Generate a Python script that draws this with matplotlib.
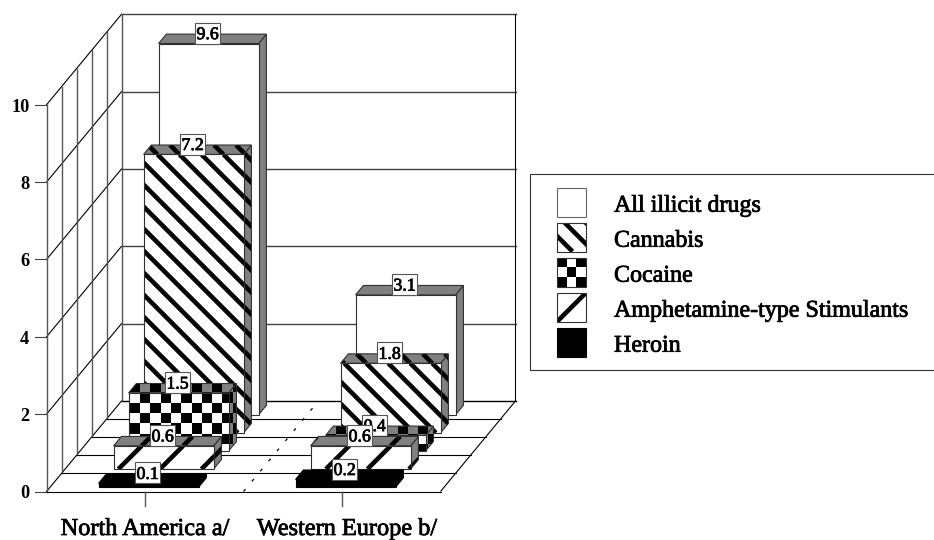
import matplotlib
matplotlib.use("Agg")
import matplotlib.pyplot as plt
import matplotlib.patheffects as pe
from matplotlib.patches import Polygon, Rectangle

plt.rcParams['font.family'] = ['Liberation Serif', 'DejaVu Serif']

regions = ["North America a/", "Western Europe b/"]
drugs = ["Heroin", "Amphetamine-type Stimulants", "Cocaine", "Cannabis", "All illicit drugs"]
north_america = [0.1, 0.6, 1.5, 7.2, 9.6]
western_europe = [0.2, 0.6, 0.4, 1.8, 3.1]
legend_order = ["All illicit drugs", "Cannabis", "Cocaine", "Amphetamine-type Stimulants", "Heroin"]
y_ticks = [0, 2, 4, 6, 8, 10]
patterns = {"Heroin": "solid", "Amphetamine-type Stimulants": "slash", "Cocaine": "check",
            "Cannabis": "back", "All illicit drugs": "none"}

# pixel geometry of the fake 3d box
X0, Y0 = 46.5, 491.5
PLOT_W = 394
DX, DY = 15, 18.1     # shift per depth slot
UNIT = 38.67          # pixels per value unit
GRAY = "#808080"
LW = 0.8
HEAVY = [pe.withStroke(linewidth=0.55, foreground="black")]

fig = plt.figure(figsize=(9.34, 5.4), dpi=100)
ax = fig.add_axes([0, 0, 1, 1])
ax.set_xlim(0, 934)
ax.set_ylim(540, 0)
ax.axis("off")


def proj(pos, depth, val):
    # pos is 0..1 across the front, depth in slots from the front, val in data units
    return X0 + pos * PLOT_W + depth * DX, Y0 - depth * DY - val * UNIT


def stripes(clip, kind, spacing, phase, z, box):
    # "back" lines keep x - y constant, "slash" lines keep x + y constant
    x1, y1, x2, y2 = box
    if kind == "back":
        lo, hi = x1 - y2, x2 - y1
    else:
        lo, hi = x1 + y1, x2 + y2
    c = phase + spacing * int((lo - phase) // spacing)
    while c < hi + spacing:
        if kind == "back":
            xs = [c + y1, c + y2]
        else:
            xs = [c - y1, c - y2]
        ln, = ax.plot(xs, [y1, y2], color="black", lw=3.3, zorder=z, solid_capstyle="butt")
        ln.set_clip_path(clip)
        c += spacing


def checks(clip, size, phase, z, box):
    x1, y1, x2, y2 = box
    i0 = int((x1 - phase[0]) // size) - 1
    j0 = int((y1 - phase[1]) // size) - 1
    for i in range(i0, i0 + int((x2 - x1) / size) + 3):
        for j in range(j0, j0 + int((y2 - y1) / size) + 3):
            if (i + j) % 2 == 0:
                r = Rectangle((phase[0] + i * size, phase[1] + j * size), size, size,
                              fc="black", ec="none", zorder=z)
                ax.add_patch(r)
                r.set_clip_path(clip)


def face(pts, fc, pattern, z, ec="#303030", spacing=None, phase=None):
    poly = Polygon(pts, closed=True, fc=fc, ec="none", zorder=z)
    ax.add_patch(poly)
    xs = [p[0] for p in pts]
    ys = [p[1] for p in pts]
    box = (min(xs), min(ys), max(xs), max(ys))
    if pattern == "back":
        stripes(poly, "back", spacing or 22, 3 if phase is None else phase, z, box)
    elif pattern == "slash":
        stripes(poly, "slash", spacing or 41.5, 6.5 if phase is None else phase, z, box)
    elif pattern == "check":
        checks(poly, spacing or 10.3, phase or (140, 392.3), z, box)
    if pattern == "solid":
        ec = "black"
    ax.add_patch(Polygon(pts, closed=True, fc="none", ec=ec, lw=LW, zorder=z))


def draw_bar(i, slot, val, pattern, z):
    cx = (i + 0.5) / 2
    half = 50 / PLOT_W
    d1, d2 = slot + 0.24, slot + 0.76
    fl = proj(cx - half, d1, 0)
    fr = proj(cx + half, d1, 0)
    tl = proj(cx - half, d1, val)
    tr = proj(cx + half, d1, val)
    bl = proj(cx - half, d2, val)
    br = proj(cx + half, d2, val)
    sr = proj(cx + half, d2, 0)
    solid = pattern == "solid"
    face([tr, br, sr, fr], "black" if solid else GRAY, pattern, z)
    face([tl, bl, br, tr], "black" if solid else GRAY, pattern, z + 0.1)
    face([fl, tl, tr, fr], "black" if solid else "white", pattern, z + 0.2)
    # value box sits on the back edge of the top
    lx = (tl[0] + tr[0]) / 2 - 1
    ly = bl[1] - 1
    ax.add_patch(Rectangle((lx - 12.5, ly - 10.5), 25, 21, fc="white", ec="#555555", lw=LW, zorder=z + 0.3))
    ax.text(lx, ly + 6, f"{val:.1f}", ha="center", va="baseline", fontsize=12.8,
            zorder=z + 0.4, path_effects=HEAVY)


# walls and floor
n_slots = len(drugs)
for v in y_ticks:
    a = proj(0, 0, v)
    b = proj(0, n_slots, v)
    c = proj(1, n_slots, v)
    ax.plot([a[0], b[0]], [a[1], b[1]], color="black", lw=LW, zorder=1)
    ax.plot([b[0], c[0]], [b[1], c[1]], color="#404040", lw=1.0, zorder=1)
    ax.plot([a[0] - 12, a[0]], [a[1], a[1]], color="#444444", lw=LW, zorder=1)
    ax.text(29.5, a[1] + 7, str(v), ha="right", va="baseline", fontsize=13.2, fontweight="bold")
for d in range(n_slots + 1):
    a = proj(0, d, 0)
    b = proj(0, d, y_ticks[-1])
    c = proj(1, d, 0)
    ax.plot([a[0], b[0]], [a[1], b[1]], color="#555555", lw=1.0, zorder=1)
    ax.plot([a[0], c[0]], [a[1], c[1]], color="black", lw=LW, zorder=1)
a = proj(1, 0, 0)
b = proj(1, n_slots, 0)
c = proj(1, n_slots, y_ticks[-1])
ax.plot([a[0], b[0], c[0]], [a[1], b[1], c[1]], color="black", lw=LW, zorder=1, solid_capstyle="butt")

# dotted divider between the two regions
a = proj(0.5, 0, 0)
b = proj(0.5, n_slots, 0)
ax.plot([a[0], b[0]], [a[1], b[1]], color="black", lw=0.9, ls=(0, (2.5, 8)), zorder=1)

# region ticks and labels
label_shift = [0, 5]
for i, name in enumerate(regions):
    a = proj((i + 0.5) / 2, 0, 0)
    ax.plot([a[0], a[0]], [a[1], a[1] + 14], color="#555555", lw=1.0, zorder=1)
    ax.text(a[0] + label_shift[i], 535, name, ha="center", va="baseline", fontsize=17.5, path_effects=HEAVY)

# bars back to front
z = 2
for slot in reversed(range(n_slots)):
    for i, vals in enumerate([north_america, western_europe]):
        draw_bar(i, slot, vals[slot], patterns[drugs[slot]], z)
        z += 1

# legend
ax.plot([940, 529.7, 529.7, 940], [174, 174, 370, 370], color="#333333", lw=LW, zorder=z)
for k, name in enumerate(legend_order):
    yc = 202 + k * 35
    x1, x2, y1, y2 = 557, 586, yc - 14.5, yc + 14.5
    pts = [(x1, y1), (x2, y1), (x2, y2), (x1, y2)]
    pat = patterns[name]
    if pat == "solid":
        face(pts, "black", pat, z)
    elif pat == "back":
        face(pts, "white", pat, z, spacing=21, phase=6)
    elif pat == "slash":
        face(pts, "white", pat, z, spacing=60, phase=38.7)
    elif pat == "check":
        face(pts, "white", pat, z, spacing=9.67, phase=(x1, y1))
    else:
        face(pts, "white", pat, z, ec="#666666")
    ax.text(614, 211.7 + k * 35, name, ha="left", va="baseline", fontsize=17.3, zorder=z, path_effects=HEAVY)

fig.savefig("out.png", dpi=100)
